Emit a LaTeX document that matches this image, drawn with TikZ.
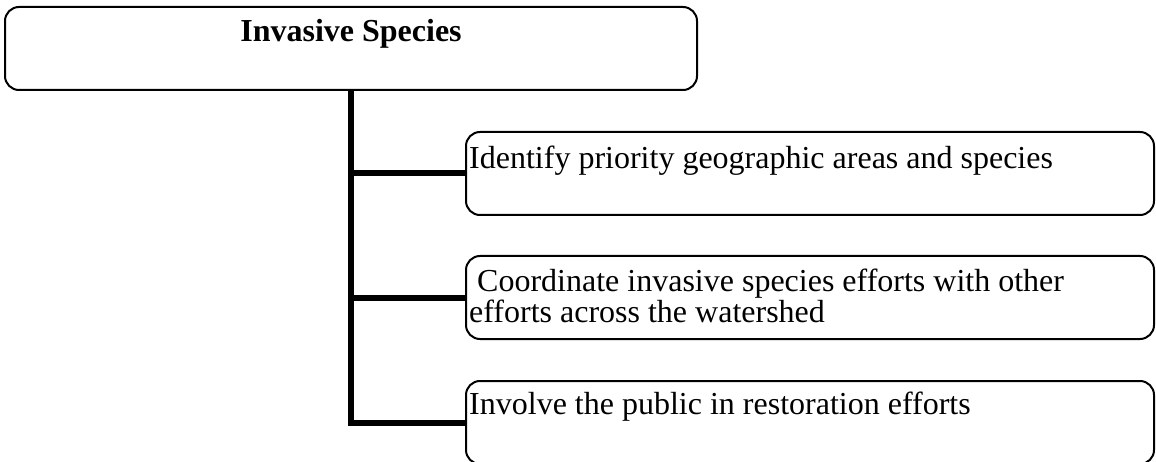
\documentclass[tikz,border=0pt]{standalone}
\usepackage{fontspec}
\setmainfont{Liberation Serif}
\begin{document}
\begin{tikzpicture}[x=1pt,y=-1pt,
  box/.style={draw, line width=2pt, rounded corners=14pt, inner sep=0pt, minimum height=83pt},
  conn/.style={line width=6pt},
  txt/.style={anchor=base west, inner sep=0pt, font=\fontsize{32}{31}\selectfont, align=left},
  ttl/.style={anchor=base, inner sep=0pt, font=\bfseries\fontsize{32}{36.8}\selectfont}]
\useasboundingbox (0,0) rectangle (1156,462);
\node[box, minimum width=692pt] (top) at (351,48.5) {};
\node[box, minimum width=688pt] (c1) at (810,173.5) {};
\node[box, minimum width=688pt] (c2) at (810,297.5) {};
\node[box, minimum width=688pt] (c3) at (810,422.5) {};
\node[ttl] (title) at ([yshift=-36pt]top.north) {Invasive Species};
\node[txt] (t1) at ([xshift=4pt,yshift=-38pt]c1.north west) {Identify priority geographic areas and species};
\node[txt] (t2) at ([xshift=4pt,yshift=-67pt]c2.north west) {\ Coordinate invasive species efforts with other\\efforts across the watershed};
\node[txt] (t3) at ([xshift=4pt,yshift=-34pt]c3.north west) {Involve the public in restoration efforts};
\draw[conn] (top.south) |- (c1.west);
\draw[conn] (top.south) |- (c2.west);
\draw[conn] (top.south) |- (c3.west);
\end{tikzpicture}
\end{document}
